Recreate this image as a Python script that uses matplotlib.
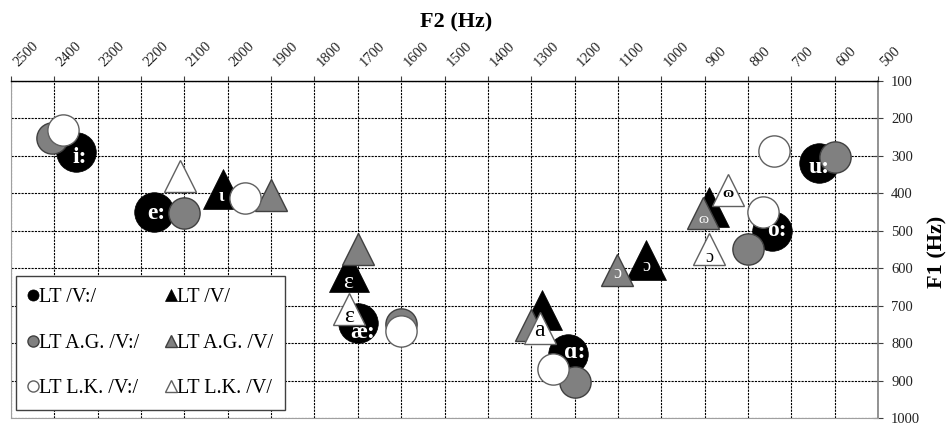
import matplotlib.pyplot as plt
from matplotlib.lines import Line2D

plt.rcParams['font.family'] = ['Liberation Serif', 'DejaVu Serif']

# vowels (long / short)
long_vowels = ['i:', 'e:', 'æ:', 'ɑ:', 'o:', 'u:']
short_vowels = ['ɩ', 'ɛ', 'a', 'ɔ', 'ɷ']

# F2 and F1 in Hz
lt_long_f2 = [2350, 2170, 1700, 1215, 745, 635]
lt_long_f1 = [290, 450, 745, 830, 500, 320]
ag_long_f2 = [2405, 2100, 1600, 1200, 800, 600]
ag_long_f1 = [252, 452, 750, 905, 550, 303]
lk_long_f2 = [2380, 1960, 1600, 1250, 765, 740]
lk_long_f1 = [230, 412, 768, 870, 450, 287]

lt_short_f2 = [2012, 1720, 1275, 1035, 890]
lt_short_f1 = [388, 611, 711, 578, 437]
ag_short_f2 = [1900, 1700, 1300, 1102, 903]
ag_short_f1 = [405, 550, 751, 605, 452]
lk_short_f2 = [2110, 1720, 1280, 890, 846]
lk_short_f1 = [355, 710, 760, 550, 391]

legend_labels = ['LT /V:/', 'LT A.G. /V:/', 'LT L.K. /V:/',
                 'LT /V/', 'LT A.G. /V/', 'LT L.K. /V/']

f2_ticks = list(range(2500, 499, -100))
f1_ticks = list(range(100, 1001, 100))

fig = plt.figure(figsize=(9.51, 4.23), dpi=100)
ax = fig.add_axes([11/951, 5/423, 867/951, 337/423])

black = dict(color='black', mec='black', mew=0.5, linestyle='none')
gray = dict(color='#808080', mec='#404040', mew=1, linestyle='none')
white = dict(color='white', mec='#606060', mew=1, linestyle='none')

ax.plot(lt_long_f2, lt_long_f1, 'o', ms=28.5, zorder=3, **black)
ax.plot(lt_short_f2, lt_short_f1, '^', ms=29, zorder=3, **black)
ax.plot(ag_long_f2, ag_long_f1, 'o', ms=22.5, zorder=4, **gray)
ax.plot(ag_short_f2, ag_short_f1, '^', ms=23, zorder=4, **gray)
ax.plot(lk_long_f2, lk_long_f1, 'o', ms=22.5, zorder=5, **white)
ax.plot(lk_short_f2, lk_short_f1, '^', ms=23, zorder=5, **white)

# labels inside the black circles (offset in px, down positive)
circle_offsets = [(4, 5), (2, 1), (5, 10), (7, -2), (5, 0), (0, 4)]
for v, x, y, (dx, dy) in zip(long_vowels, lt_long_f2, lt_long_f1, circle_offsets):
    ax.annotate(v, (x, y), xytext=(dx*0.72, -dy*0.72), textcoords='offset points',
                ha='center', va='center', color='white', fontsize=17,
                fontweight='bold', zorder=6)

# labels inside triangles: (f2 list, f1 list, index, colour, size, weight, offset)
tri_labels = [
    (lt_short_f2, lt_short_f1, 0, 'white', 13, 'bold', (-1, 8)),
    (lt_short_f2, lt_short_f1, 1, 'white', 17, 'normal', (-1, 10)),
    (lt_short_f2, lt_short_f1, 3, 'white', 13, 'normal', (0, 7)),
    (ag_short_f2, ag_short_f1, 3, 'white', 13, 'normal', (0, 3)),
    (ag_short_f2, ag_short_f1, 4, 'white', 11, 'normal', (0, 7)),
    (lk_short_f2, lk_short_f1, 1, 'black', 17, 'normal', (0, 7)),
    (lk_short_f2, lk_short_f1, 2, 'black', 17, 'normal', (0, 2)),
    (lk_short_f2, lk_short_f1, 3, 'black', 13, 'normal', (0, 8)),
    (lk_short_f2, lk_short_f1, 4, 'black', 11, 'bold', (0, 4)),
]
for xs, ys, i, c, fs, fw, (dx, dy) in tri_labels:
    ax.annotate(short_vowels[i], (xs[i], ys[i]), xytext=(dx*0.72, -dy*0.72),
                textcoords='offset points', ha='center', va='center',
                color=c, fontsize=fs, fontweight=fw, zorder=6)

ax.set_xlim(2500, 500)
ax.set_ylim(1000, 100)
ax.set_xticks(f2_ticks)
ax.set_yticks(f1_ticks)
ax.xaxis.tick_top()
ax.yaxis.tick_right()
ax.tick_params(axis='x', direction='out', length=3.5, width=0.8, color='#404040',
               pad=5, labelsize=10.5, labelcolor='#222222')
ax.tick_params(axis='y', direction='inout', length=7, width=0.8, color='#404040',
               pad=6, labelsize=10.5, labelcolor='#222222')
plt.setp(ax.get_xticklabels(), rotation=45, ha='left')

ax.grid(True, color='black', linestyle=(0, (2, 1)), lw=0.8)
ax.set_axisbelow(True)
ax.spines['top'].set_color('black')
ax.spines['top'].set_linewidth(1)
ax.spines['right'].set_color('#808080')
ax.spines['right'].set_linewidth(1.2)
ax.spines['left'].set_color('#a0a0a0')
ax.spines['bottom'].set_color('#a0a0a0')

fig.text(456/951, 1 - 22/423, 'F2 (Hz)', ha='center', va='center',
         fontsize=16, fontweight='bold')
fig.text(937/951, 1 - 252/423, 'F1 (Hz)', ha='center', va='center',
         fontsize=16, fontweight='bold', rotation=90)

handles = [
    Line2D([], [], marker='o', ms=8, **black),
    Line2D([], [], marker='o', ms=8, **gray),
    Line2D([], [], marker='o', ms=8, **white),
    Line2D([], [], marker='^', ms=8.5, **black),
    Line2D([], [], marker='^', ms=8.5, **gray),
    Line2D([], [], marker='^', ms=8.5, **white),
]
leg = ax.legend(handles, legend_labels, ncol=2, loc='lower left',
                bbox_to_anchor=(0.0058, 0.0237), borderaxespad=0,
                fontsize=14.5, handlelength=0.5, handletextpad=0.05,
                columnspacing=1.3, labelspacing=1.3, borderpad=0.6,
                fancybox=False, framealpha=1, edgecolor='#404040')
leg.get_frame().set_linewidth(1)
leg.set_zorder(7)

fig.savefig('out.png', dpi=100)
